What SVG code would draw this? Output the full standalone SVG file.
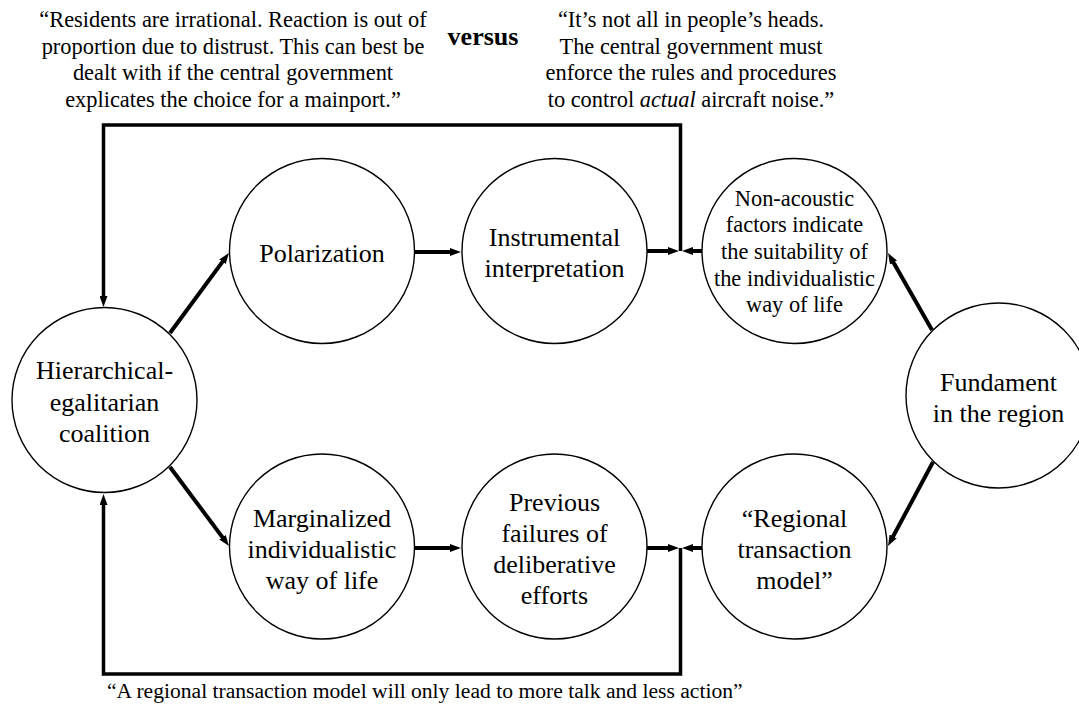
<svg xmlns="http://www.w3.org/2000/svg" width="1079" height="715" viewBox="0 0 1079 715">
<style>
.lbl{font-size:26px;text-anchor:middle}
.sm{font-size:22.4px;text-anchor:middle}
.node circle{fill:#fff;stroke:#000;stroke-width:1.4}
.arr{fill:none;stroke:#000;stroke-width:4;marker-end:url(#ah)}
.fb{fill:none;stroke:#000;stroke-width:3.5;marker-end:url(#ah)}
</style>
<defs>
<marker id="ah" viewBox="0 0 11 8" refX="4" refY="4" markerWidth="11" markerHeight="8" markerUnits="userSpaceOnUse" orient="auto">
<path d="M0,0 L11,4 L0,8 z" fill="#000"/>
</marker>
</defs>
<g font-family="Liberation Serif, Times New Roman, Tinos, DejaVu Serif, serif" fill="#000">
<g id="quotes">
<text class="sm" x="233" y="27">“Residents are irrational. Reaction is out of</text>
<text class="sm" x="233" y="54">proportion due to distrust. This can best be</text>
<text class="sm" x="233" y="80">dealt with if the central government</text>
<text class="sm" x="233" y="107">explicates the choice for a mainport.”</text>
<text x="483" y="45" font-size="26" font-weight="bold" text-anchor="middle">versus</text>
<text class="sm" x="691" y="27">“It’s not all in people’s heads.</text>
<text class="sm" x="691" y="54">The central government must</text>
<text class="sm" x="691" y="80">enforce the rules and procedures</text>
<text class="sm" x="691" y="107">to control <tspan font-style="italic">actual</tspan> aircraft noise.”</text>
<text x="107" y="698" font-size="21.6">“A regional transaction model will only lead to more talk and less action”</text>
</g>
<g id="connectors">
<path class="fb" d="M680.5,251 V125 H103.5 V300"/>
<path class="fb" d="M680.5,548 V674 H103.5 V501"/>
<path class="arr" d="M170,333 L224.8,258.6"/>
<path class="arr" d="M170,467 L224.8,540.4"/>
<path class="arr" d="M415,252 H454"/>
<path class="arr" d="M647,251 H672"/>
<path class="arr" d="M702,251 H689"/>
<path class="arr" d="M932,330 L891.5,259.1"/>
<path class="arr" d="M933,462 L891.3,539.8"/>
<path class="arr" d="M415,548 H454"/>
<path class="arr" d="M647,548 H672"/>
<path class="arr" d="M702,548 H689"/>
</g>
<g id="hier" class="node"><circle cx="104.5" cy="400" r="92.5"/>
<text class="lbl" x="104.5" y="379">Hierarchical-</text><text class="lbl" x="104.5" y="411">egalitarian</text><text class="lbl" x="104.5" y="442">coalition</text></g>
<g id="pol" class="node"><circle cx="322" cy="251" r="92.5"/>
<text class="lbl" x="322" y="262">Polarization</text></g>
<g id="instr" class="node"><circle cx="554.5" cy="251" r="92.5"/>
<text class="lbl" x="554.5" y="245.5">Instrumental</text><text class="lbl" x="554.5" y="276.5">interpretation</text></g>
<g id="nonac" class="node"><circle cx="794.5" cy="251" r="92.5"/>
<text class="sm" x="794.5" y="205.5">Non-acoustic</text><text class="sm" x="794.5" y="232.2">factors indicate</text><text class="sm" x="794.5" y="258.9">the suitability of</text><text class="sm" x="794.5" y="285.6">the individualistic</text><text class="sm" x="794.5" y="312.3">way of life</text></g>
<g id="fund" class="node"><circle cx="998.5" cy="395.5" r="92.5"/>
<text class="lbl" x="998.5" y="391">Fundament</text><text class="lbl" x="998.5" y="422">in the region</text></g>
<g id="marg" class="node"><circle cx="322" cy="546.5" r="92.5"/>
<text class="lbl" x="322" y="527">Marginalized</text><text class="lbl" x="322" y="558">individualistic</text><text class="lbl" x="322" y="589">way of life</text></g>
<g id="prev" class="node"><circle cx="554.5" cy="546.5" r="92.5"/>
<text class="lbl" x="554.5" y="511">Previous</text><text class="lbl" x="554.5" y="542">failures of</text><text class="lbl" x="554.5" y="573">deliberative</text><text class="lbl" x="554.5" y="604">efforts</text></g>
<g id="reg" class="node"><circle cx="794.5" cy="546.5" r="92.5"/>
<text class="lbl" x="794.5" y="527">“Regional</text><text class="lbl" x="794.5" y="558">transaction</text><text class="lbl" x="794.5" y="589">model”</text></g>
</g>
</svg>
